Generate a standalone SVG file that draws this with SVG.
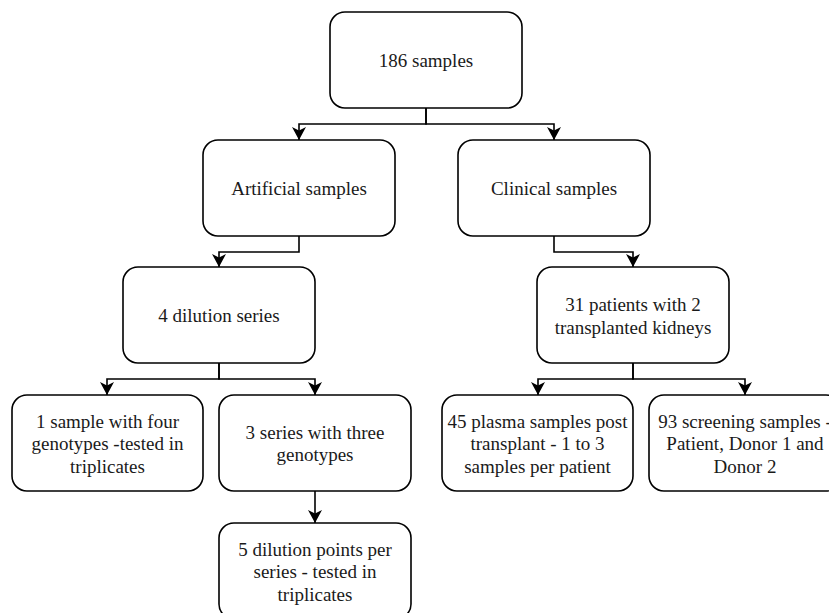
<svg xmlns="http://www.w3.org/2000/svg" width="829" height="613" viewBox="0 0 829 613">
  <style>
    .box { fill: #ffffff; stroke: #000000; stroke-width: 1.6; }
    .lbl { font-family: 'Liberation Serif', 'Times New Roman', serif; font-size: 19px; fill: #1a1a1a; text-anchor: middle; }
    .edge { fill: none; stroke: #000000; stroke-width: 1.6; marker-end: url(#arrow); }
  </style>
  <defs>
    <marker id="arrow" markerUnits="userSpaceOnUse" markerWidth="14" markerHeight="14" refX="13" refY="7" orient="auto" viewBox="0 0 14 14">
      <path d="M0,0 L13,7 L0,14 L3.5,7 Z" fill="#000000"/>
    </marker>
  </defs>
  <rect width="829" height="613" fill="#ffffff"/>

  <g id="connectors">
    <path class="edge" d="M426,108 V124 H299 V140"/>
    <path class="edge" d="M426,108 V124 H554 V140"/>
    <path class="edge" d="M299,236 V252 H219 V267"/>
    <path class="edge" d="M554,236 V252 H633 V267"/>
    <path class="edge" d="M219,363 V379 H107 V395"/>
    <path class="edge" d="M219,363 V379 H315 V395"/>
    <path class="edge" d="M633,363 V379 H538 V395"/>
    <path class="edge" d="M633,363 V379 H745 V395"/>
    <path class="edge" d="M315,491 V523"/>
  </g>

  <g id="n-186">
    <rect class="box" x="330" y="12" width="192" height="96" rx="15"/>
    <text class="lbl" x="426" y="67">186 samples</text>
  </g>
  <g id="n-artificial">
    <rect class="box" x="203" y="140" width="192" height="96" rx="15"/>
    <text class="lbl" x="299" y="195">Artificial samples</text>
  </g>
  <g id="n-clinical">
    <rect class="box" x="458" y="140" width="192" height="96" rx="15"/>
    <text class="lbl" x="554" y="195">Clinical samples</text>
  </g>
  <g id="n-dilution">
    <rect class="box" x="123" y="267" width="192" height="96" rx="15"/>
    <text class="lbl" x="219" y="322">4 dilution series</text>
  </g>
  <g id="n-patients">
    <rect class="box" x="537" y="267" width="192" height="96" rx="15"/>
    <text class="lbl" x="633" y="311">31 patients with 2</text>
    <text class="lbl" x="633" y="333.5">transplanted kidneys</text>
  </g>
  <g id="n-one-sample">
    <rect class="box" x="12" y="395" width="191" height="96" rx="15"/>
    <text class="lbl" x="107.5" y="427.5">1 sample with four</text>
    <text class="lbl" x="107.5" y="450">genotypes -tested in</text>
    <text class="lbl" x="107.5" y="472.5">triplicates</text>
  </g>
  <g id="n-three-series">
    <rect class="box" x="219" y="395" width="192" height="96" rx="15"/>
    <text class="lbl" x="315" y="438.5">3 series with three</text>
    <text class="lbl" x="315" y="461">genotypes</text>
  </g>
  <g id="n-plasma">
    <rect class="box" x="442" y="395" width="191" height="96" rx="15"/>
    <text class="lbl" x="537.5" y="427.5">45 plasma samples post</text>
    <text class="lbl" x="537.5" y="450">transplant - 1 to 3</text>
    <text class="lbl" x="537.5" y="472.5">samples per patient</text>
  </g>
  <g id="n-screening">
    <rect class="box" x="649" y="395" width="192" height="96" rx="15"/>
    <text class="lbl" x="745" y="427.5">93 screening samples -</text>
    <text class="lbl" x="745" y="450">Patient, Donor 1 and</text>
    <text class="lbl" x="745" y="472.5">Donor 2</text>
  </g>
  <g id="n-points">
    <rect class="box" x="219" y="523" width="192" height="96" rx="15"/>
    <text class="lbl" x="315" y="555.5">5 dilution points per</text>
    <text class="lbl" x="315" y="578">series - tested in</text>
    <text class="lbl" x="315" y="600.5">triplicates</text>
  </g>
</svg>
